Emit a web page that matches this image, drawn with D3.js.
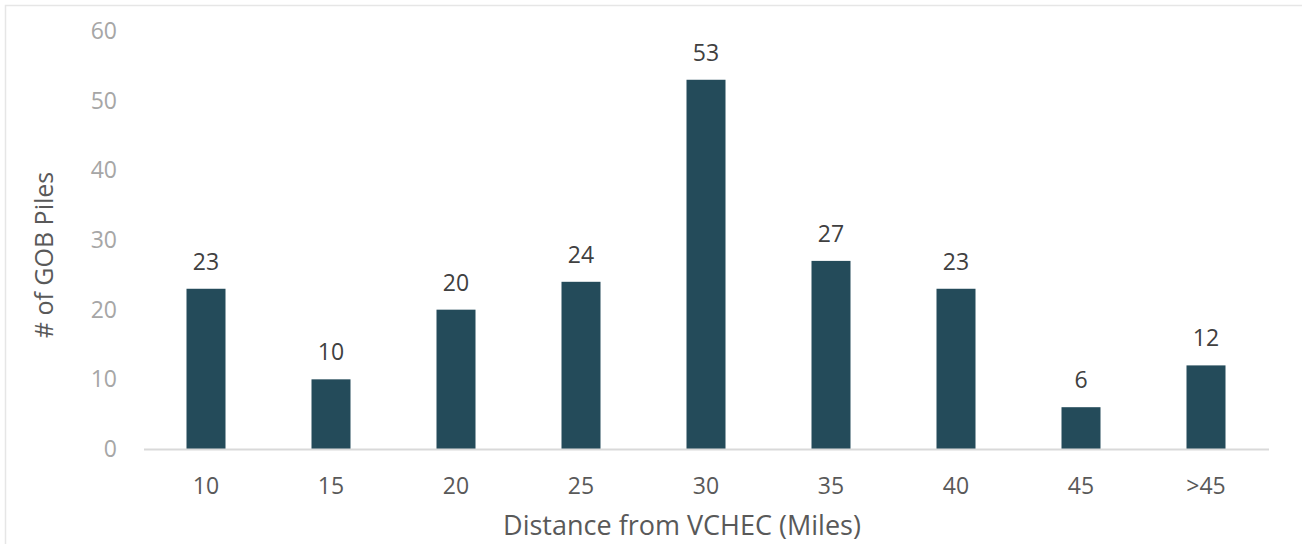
<!DOCTYPE html>
<html>
<head>
<meta charset="utf-8">
<script src="https://cdn.jsdelivr.net/npm/d3@7"></script>
<style>
  html, body { margin: 0; padding: 0; background: #ffffff; }
  svg { display: block; font-family: "Open Sans", sans-serif; }
</style>
</head>
<body>
<svg id="chart" width="1302" height="544"></svg>
<script>
const categories = ["10", "15", "20", "25", "30", "35", "40", "45", ">45"];
const pileCounts = [23, 10, 20, 24, 53, 27, 23, 6, 12];
const yTicks = [0, 10, 20, 30, 40, 50, 60];
const xTitle = "Distance from VCHEC (Miles)";
const yTitle = "# of GOB Piles";

(function () {
const svg = d3.select("#chart");
const W = 1302, H = 544;
const mLeft = 143.5, mRight = 1268.5, mTop = 31, mBottom = 449;
const FONT = "'Open Sans', sans-serif";

// frame
svg.append("path")
  .attr("d", `M5.5,${H} V5.5 H${W}`)
  .attr("fill", "none")
  .attr("stroke", "#e6e6e6")
  .attr("stroke-width", 1.5);

const x = d3.scaleBand()
  .domain(categories)
  .range([mLeft, mRight])
  .paddingInner(0.688)
  .paddingOuter(0.344);

const y = d3.scaleLinear().domain([0, 60]).range([mBottom, mTop]);

// y axis labels (no line)
const yAxis = d3.axisLeft(y).tickValues(yTicks).tickSize(0).tickPadding(0);
const yg = svg.append("g").attr("transform", `translate(117,0)`).call(yAxis);
yg.select(".domain").remove();
yg.selectAll("text")
  .attr("fill", "#a6a6a6")
  .style("font-size", "23px")
  .style("font-family", FONT);

// bars
svg.append("g").selectAll("rect")
  .data(categories)
  .join("rect")
  .attr("x", d => x(d))
  .attr("width", x.bandwidth())
  .attr("y", (d, i) => y(pileCounts[i]))
  .attr("height", (d, i) => y(0) - y(pileCounts[i]))
  .attr("fill", "#244b5a");

// baseline x axis
const xAxis = d3.axisBottom(x).tickSize(0).tickPadding(29);
const xg = svg.append("g").attr("transform", `translate(0,${mBottom})`).call(xAxis);
xg.select(".domain").attr("stroke", "#d9d9d9").attr("stroke-width", 2);
xg.selectAll("text")
  .attr("fill", "#595959")
  .style("font-size", "23px")
  .style("font-family", FONT);

// value labels
svg.append("g").selectAll("text")
  .data(categories)
  .join("text")
  .attr("x", d => x(d) + x.bandwidth() / 2)
  .attr("y", (d, i) => y(pileCounts[i]) - 19)
  .attr("text-anchor", "middle")
  .attr("fill", "#404040")
  .style("font-size", "23px")
  .text((d, i) => pileCounts[i]);

// axis titles
svg.append("text")
  .attr("x", 682)
  .attr("y", 535)
  .attr("text-anchor", "middle")
  .attr("fill", "#595959")
  .style("font-size", "27px")
  .text(xTitle);

svg.append("text")
  .attr("transform", `translate(53,255) rotate(-90)`)
  .attr("text-anchor", "middle")
  .attr("fill", "#595959")
  .style("font-size", "25px")
  .text(yTitle);
})();
</script>
</body>
</html>
